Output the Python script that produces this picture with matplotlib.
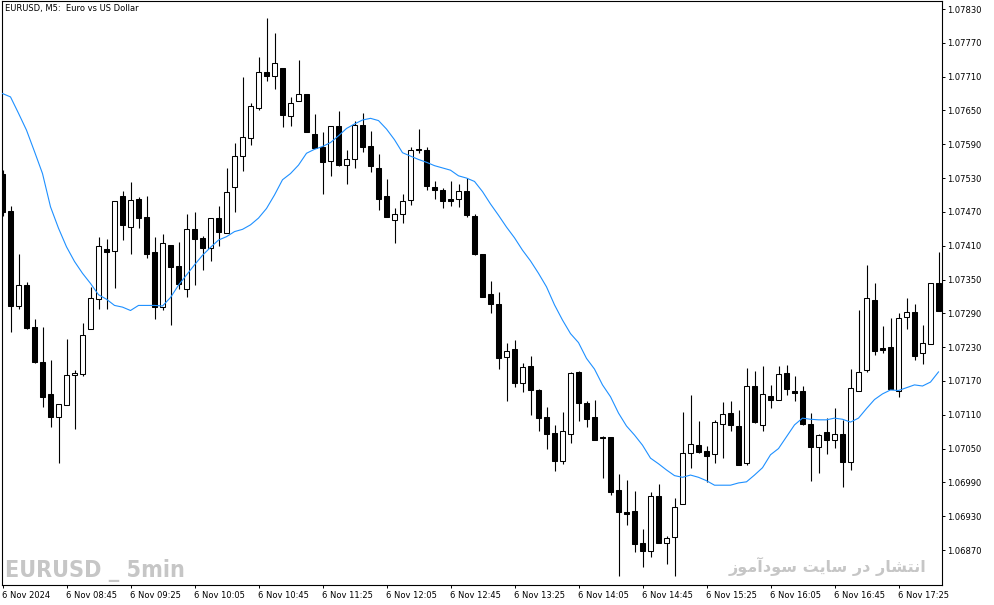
import matplotlib.pyplot as plt
import pandas as pd

plt.rcParams['font.family'] = ['DejaVu Sans']

chart_title = "EURUSD, M5:  Euro vs US Dollar"
start_time = "2024-11-06 08:05"
watermark_left = "EURUSD _ 5min"
# "انتشار در سایت سودآموز" written in shaped (presentation) forms, visual order
watermark_right = ("\uFEAF\uFEEE\uFEE3\uFE81\uFEA9\uFEEE\uFEB3 \uFE96\uFBFE\uFE8E\uFEB3 "
                   "\uFEAD\uFEA9 \uFEAD\uFE8E\uFEB8\uFE98\uFEE7\uFE8D")

opens = [1.07537, 1.07472, 1.07303, 1.07340, 1.07266, 1.07204, 1.07147, 1.07106, 1.07127, 1.07180,
         1.07183, 1.07262, 1.07315, 1.07404, 1.07400, 1.07498, 1.07443, 1.07493, 1.07461, 1.07399,
         1.07302, 1.07412, 1.07374, 1.07334, 1.07439, 1.07423, 1.07406, 1.07459, 1.07432, 1.07514,
         1.07570, 1.07601, 1.07655, 1.07719, 1.07712, 1.07725, 1.07640, 1.07666, 1.07679, 1.07609,
         1.07585, 1.07560, 1.07622, 1.07554, 1.07563, 1.07624, 1.07587, 1.07548, 1.07498, 1.07455,
         1.07466, 1.07491, 1.07581, 1.07579, 1.07515, 1.07509, 1.07493, 1.07492, 1.07507, 1.07463,
         1.07395, 1.07325, 1.07306, 1.07212, 1.07226, 1.07166, 1.07197, 1.07154, 1.07106, 1.07078,
         1.07028, 1.07075, 1.07186, 1.07131, 1.07106, 1.07071, 1.07071, 1.06976, 1.06937, 1.06940,
         1.06882, 1.06869, 1.06965, 1.06883, 1.06893, 1.06951, 1.07042, 1.07056, 1.07046, 1.07041,
         1.07093, 1.07113, 1.07090, 1.07024, 1.07161, 1.07091, 1.07143, 1.07136, 1.07184, 1.07153,
         1.07152, 1.07094, 1.07052, 1.07079, 1.07066, 1.07076, 1.07027, 1.07153, 1.07189, 1.07313,
         1.07228, 1.07231, 1.07153, 1.07283, 1.07292, 1.07219, 1.07236, 1.07344]

highs = [1.07545, 1.07480, 1.07396, 1.07346, 1.07280, 1.07266, 1.07207, 1.07129, 1.07244, 1.07189,
         1.07273, 1.07337, 1.07425, 1.07422, 1.07489, 1.07507, 1.07523, 1.07497, 1.07498, 1.07425,
         1.07431, 1.07412, 1.07416, 1.07466, 1.07470, 1.07427, 1.07460, 1.07480, 1.07548, 1.07592,
         1.07709, 1.07663, 1.07745, 1.07814, 1.07787, 1.07725, 1.07673, 1.07740, 1.07679, 1.07643,
         1.07611, 1.07622, 1.07649, 1.07580, 1.07631, 1.07645, 1.07614, 1.07573, 1.07528, 1.07476,
         1.07502, 1.07585, 1.07617, 1.07585, 1.07525, 1.07512, 1.07525, 1.07519, 1.07530, 1.07467,
         1.07395, 1.07347, 1.07327, 1.07237, 1.07243, 1.07202, 1.07214, 1.07156, 1.07124, 1.07091,
         1.07115, 1.07186, 1.07188, 1.07135, 1.07136, 1.07072, 1.07071, 1.07005, 1.06995, 1.06975,
         1.06907, 1.06973, 1.06987, 1.06894, 1.06963, 1.07115, 1.07145, 1.07099, 1.07054, 1.07101,
         1.07133, 1.07134, 1.07118, 1.07193, 1.07188, 1.07197, 1.07163, 1.07197, 1.07198, 1.07179,
         1.07161, 1.07113, 1.07076, 1.07105, 1.07122, 1.07101, 1.07191, 1.07295, 1.07376, 1.07344,
         1.07267, 1.07282, 1.07290, 1.07317, 1.07307, 1.07269, 1.07344, 1.07399]

lows = [1.07462, 1.07257, 1.07298, 1.07262, 1.07202, 1.07124, 1.07089, 1.07025, 1.07127, 1.07085,
        1.07178, 1.07262, 1.07298, 1.07298, 1.07335, 1.07420, 1.07396, 1.07442, 1.07389, 1.07280,
        1.07295, 1.07270, 1.07334, 1.07319, 1.07341, 1.07366, 1.07383, 1.07409, 1.07432, 1.07469,
        1.07543, 1.07589, 1.07650, 1.07702, 1.07688, 1.07620, 1.07623, 1.07666, 1.07611, 1.07583,
        1.07501, 1.07534, 1.07552, 1.07520, 1.07548, 1.07577, 1.07540, 1.07473, 1.07461, 1.07415,
        1.07451, 1.07483, 1.07574, 1.07508, 1.07492, 1.07476, 1.07480, 1.07479, 1.07461, 1.07393,
        1.07319, 1.07291, 1.07192, 1.07135, 1.07160, 1.07151, 1.07110, 1.07082, 1.07050, 1.07011,
        1.07023, 1.07060, 1.07099, 1.07089, 1.07066, 1.06998, 1.06968, 1.06824, 1.06914, 1.06867,
        1.06839, 1.06858, 1.06882, 1.06845, 1.06823, 1.06951, 1.07016, 1.07042, 1.06990, 1.07025,
        1.07034, 1.07082, 1.07021, 1.07020, 1.07095, 1.07082, 1.07122, 1.07136, 1.07145, 1.07135,
        1.07091, 1.06993, 1.07007, 1.07041, 1.07051, 1.06982, 1.07012, 1.07153, 1.07185, 1.07216,
        1.07220, 1.07156, 1.07141, 1.07262, 1.07207, 1.07200, 1.07236, 1.07294]

closes = [1.07470, 1.07303, 1.07340, 1.07264, 1.07204, 1.07142, 1.07106, 1.07129, 1.07180, 1.07184,
          1.07251, 1.07317, 1.07409, 1.07398, 1.07489, 1.07447, 1.07491, 1.07460, 1.07396, 1.07302,
          1.07414, 1.07373, 1.07342, 1.07439, 1.07421, 1.07406, 1.07459, 1.07435, 1.07505, 1.07570,
          1.07602, 1.07657, 1.07718, 1.07712, 1.07734, 1.07642, 1.07663, 1.07679, 1.07611, 1.07584,
          1.07559, 1.07622, 1.07554, 1.07563, 1.07624, 1.07586, 1.07552, 1.07493, 1.07461, 1.07466,
          1.07489, 1.07579, 1.07580, 1.07516, 1.07508, 1.07490, 1.07490, 1.07507, 1.07465, 1.07395,
          1.07319, 1.07306, 1.07211, 1.07223, 1.07167, 1.07194, 1.07154, 1.07105, 1.07076, 1.07028,
          1.07081, 1.07184, 1.07130, 1.07103, 1.07066, 1.07068, 1.06973, 1.06938, 1.06934, 1.06881,
          1.06869, 1.06965, 1.06882, 1.06891, 1.06946, 1.07042, 1.07058, 1.07044, 1.07036, 1.07097,
          1.07111, 1.07091, 1.07021, 1.07161, 1.07097, 1.07146, 1.07137, 1.07182, 1.07156, 1.07149,
          1.07094, 1.07052, 1.07074, 1.07066, 1.07076, 1.07027, 1.07157, 1.07185, 1.07318, 1.07224,
          1.07225, 1.07156, 1.07281, 1.07292, 1.07215, 1.07237, 1.07344, 1.07294]

# moving average line
ma_line = [1.07680, 1.07674, 1.07645, 1.07615, 1.07577, 1.07538, 1.07479, 1.07441, 1.07408, 1.07382,
           1.07361, 1.07343, 1.07323, 1.07315, 1.07304, 1.07301, 1.07295, 1.07304, 1.07304, 1.07304,
           1.07303, 1.07318, 1.07340, 1.07358, 1.07376, 1.07393, 1.07407, 1.07420, 1.07426, 1.07435,
           1.07439, 1.07447, 1.07459, 1.07476, 1.07500, 1.07527, 1.07538, 1.07553, 1.07574, 1.07581,
           1.07586, 1.07593, 1.07605, 1.07618, 1.07626, 1.07633, 1.07636, 1.07632, 1.07617, 1.07598,
           1.07575, 1.07569, 1.07563, 1.07558, 1.07552, 1.07548, 1.07544, 1.07534, 1.07530, 1.07524,
           1.07506, 1.07484, 1.07464, 1.07443, 1.07424, 1.07402, 1.07383, 1.07361, 1.07337, 1.07305,
           1.07278, 1.07254, 1.07238, 1.07210, 1.07191, 1.07163, 1.07142, 1.07113, 1.07090, 1.07074,
           1.07056, 1.07033, 1.07023, 1.07012, 1.07002, 1.06999, 1.07003, 1.06999, 1.06993, 1.06985,
           1.06985, 1.06985, 1.06989, 1.06991, 1.07003, 1.07016, 1.07039, 1.07050, 1.07071, 1.07092,
           1.07104, 1.07102, 1.07101, 1.07101, 1.07104, 1.07102, 1.07097, 1.07104, 1.07121, 1.07137,
           1.07147, 1.07154, 1.07153, 1.07158, 1.07163, 1.07161, 1.07168, 1.07186]

price_ticks = [1.06870 + 0.0006 * i for i in range(17)]

n = len(opens)
idx = list(range(n))
times = pd.date_range(start_time, periods=n, freq="5min")
tick_idx = list(range(0, n, 8))
tick_labels = []
for i in tick_idx:
    t = times[i]
    if i == 0:
        tick_labels.append(f"{t.day} {t:%b %Y}")
    else:
        tick_labels.append(f"{t.day} {t:%b %H:%M}")

W, H = 994, 605
fig = plt.figure(figsize=(W / 100, H / 100), dpi=100)
ax = fig.add_axes([2 / W, (H - 585) / H, 940 / W, 584 / H])

# wicks
ax.vlines(idx, lows, highs, color="black", lw=0.8, zorder=2)

# bodies
bottoms = [min(o, c) for o, c in zip(opens, closes)]
heights = [max(abs(c - o), 0.000004) for o, c in zip(opens, closes)]
colors = ["white" if c >= o else "black" for o, c in zip(opens, closes)]
ax.bar(idx, heights, bottom=bottoms, width=0.52, color=colors,
       edgecolor="black", linewidth=0.75, zorder=3)

ax.plot(idx, ma_line, color="#1e90ff", lw=0.8, zorder=4)

ax.set_xlim(-0.0625, 117.4375)
ax.set_ylim(1.068079, 1.078442)

ax.yaxis.tick_right()
ax.set_yticks(price_ticks, [f"{p:.5f}" for p in price_ticks])
ax.set_xticks(tick_idx, tick_labels)
for lbl in ax.get_xticklabels():
    lbl.set_horizontalalignment("left")
ax.tick_params(axis="both", direction="out", length=2.5, width=0.7,
               labelsize=6, pad=1.5, colors="black")

for s in ax.spines.values():
    s.set_linewidth(0.8)
    s.set_color("black")

fig.text(5 / W, 1 - 8 / H, chart_title, fontsize=6, va="center", ha="left")

wm = fig.text(5 / W, 1 - 577 / H, watermark_left, fontsize=20, fontweight="bold",
              family=["DejaVu Sans"], fontstretch="condensed", color="#c6c6c6",
              va="baseline", ha="left")
# squeeze to the narrow look of the original if no condensed face is found
fig.canvas.draw()
bb = wm.get_window_extent()
if bb.width > 185:
    wm.set_fontsize(20 * 180 / bb.width)

fig.text(926 / W, 1 - 566 / H, watermark_right, fontsize=11.5, fontweight="bold",
         family=["DejaVu Sans"], color="#c6c6c6", va="center", ha="right")

fig.savefig("out.png", dpi=100, facecolor="white")
